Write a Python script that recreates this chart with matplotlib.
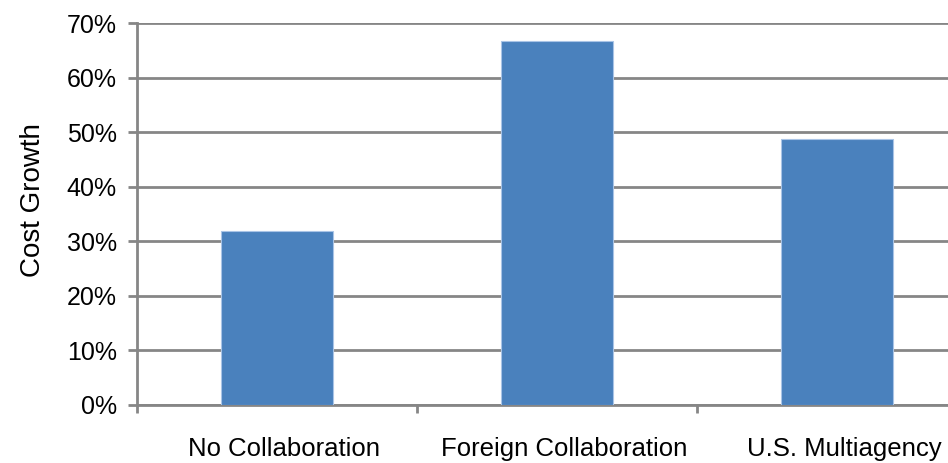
import matplotlib
matplotlib.use("Agg")
import matplotlib.pyplot as plt
import matplotlib.transforms as mtransforms
from matplotlib.ticker import PercentFormatter

# data
categories = ["No Collaboration", "Foreign Collaboration", "U.S. Multiagency"]
cost_growth = [32.0, 66.8, 48.7]  # percent
y_ticks = [0, 10, 20, 30, 40, 50, 60, 70]

plt.rcParams['font.family'] = ['Liberation Sans', 'DejaVu Sans']
grid_col = '#868686'

fig = plt.figure(figsize=(9.48, 4.63), dpi=100)
ax = fig.add_axes([137/948, 1 - 405/463, 840/948, (405 - 23.3)/463])

x = list(range(len(categories)))
ax.bar(x, cost_growth, width=0.4, color='#4a81bd', edgecolor='#a9c4e6',
       linewidth=0.8, zorder=3)

ax.set_xlim(-0.5, 2.5)
ax.set_ylim(0, 70)
ax.set_yticks(y_ticks)
ax.yaxis.set_major_formatter(PercentFormatter(decimals=0))
ax.grid(axis='y', color=grid_col, linewidth=2.0, zorder=0)
ax.set_axisbelow(True)

# category boundary ticks
ax.set_xticks([-0.5, 0.5, 1.5, 2.5])
ax.set_xticklabels([])
ax.set_xticks(x, minor=True)
ax.set_xticklabels(categories, minor=True)
ax.tick_params(axis='x', which='minor', length=0, pad=23, labelsize=18.5)
ax.tick_params(axis='x', which='major', length=6, width=2, color=grid_col)
ax.tick_params(axis='y', length=6.5, width=2, color=grid_col, labelsize=18, pad=8)

# labels sit a little right of the bar centres in the original
shift = mtransforms.ScaledTranslation(7/100, 0, fig.dpi_scale_trans)
for lab in ax.get_xticklabels(minor=True):
    lab.set_transform(lab.get_transform() + shift)

for s in ['top', 'right']:
    ax.spines[s].set_visible(False)
for s in ['left', 'bottom']:
    ax.spines[s].set_color(grid_col)
    ax.spines[s].set_linewidth(2.0)

ax.set_ylabel("Cost Growth", fontsize=20)
ax.yaxis.set_label_coords(-0.108, 0.536)

fig.savefig("out.png", dpi=100)
